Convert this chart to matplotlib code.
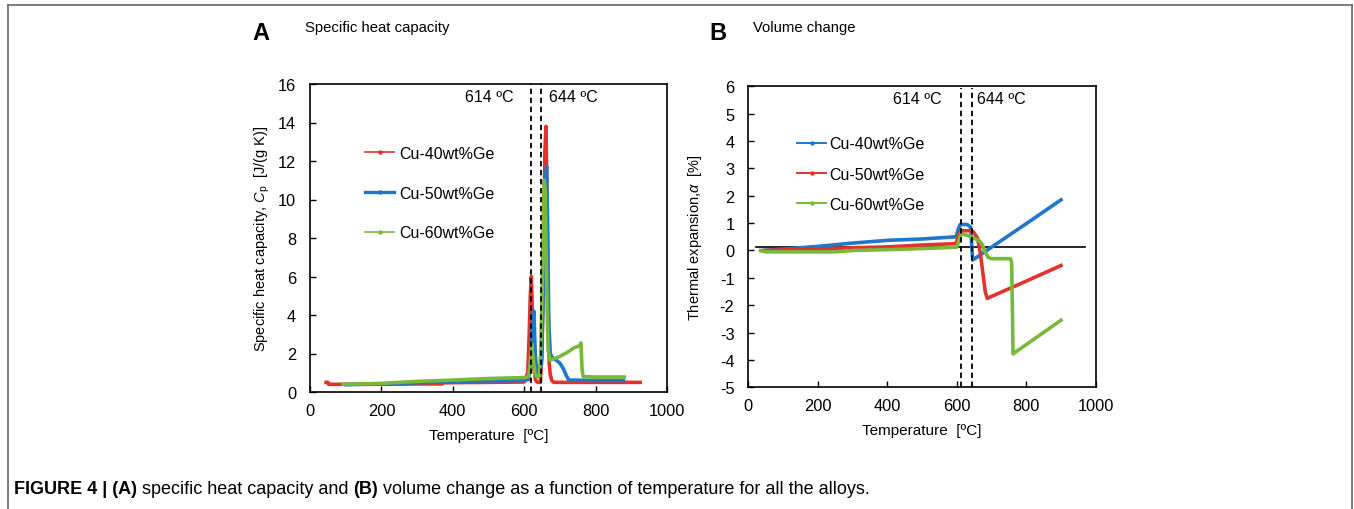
import matplotlib
matplotlib.use("Agg")
import matplotlib.pyplot as plt
from matplotlib.lines import Line2D

plt.rcParams['font.family'] = ['Liberation Sans', 'DejaVu Sans']
plt.rcParams['mathtext.fontset'] = 'custom'
plt.rcParams['mathtext.rm'] = 'Liberation Sans'
plt.rcParams['mathtext.it'] = 'Liberation Sans:italic'
plt.rcParams['axes.unicode_minus'] = False

# -------- Données (A) : capacité thermique massique --------
t_cp40 = [45, 50, 52, 100, 200, 300, 370, 372, 500, 600, 610, 614, 617, 620, 623, 627, 632, 638,
          645, 650, 655, 658, 661, 664, 667, 670, 673, 677, 683, 700, 800, 925]
cp40 = [0.5, 0.5, 0.4, 0.4, 0.4, 0.42, 0.42, 0.48, 0.5, 0.52, 1.0, 3.0, 5.0, 6.0, 4.0, 1.2, 0.6, 0.5,
        0.5, 2.0, 8.0, 12.5, 13.8, 10.2, 4.5, 1.5, 0.9, 0.6, 0.5, 0.5, 0.5, 0.5]

t_cp50 = [100, 150, 200, 300, 400, 500, 600, 612, 618, 623, 627, 631, 636, 642, 648, 652, 656, 660,
          663, 666, 669, 673, 680, 690, 700, 710, 718, 725, 800, 878]
cp50 = [0.38, 0.4, 0.42, 0.48, 0.55, 0.58, 0.6, 0.65, 1.5, 3.5, 4.2, 2.0, 0.85, 0.8, 1.5, 4.0, 8.5, 11.2,
        11.7, 8.0, 3.5, 2.0, 1.75, 1.65, 1.5, 1.2, 0.85, 0.62, 0.6, 0.6]

t_cp60 = [93, 150, 200, 300, 400, 500, 600, 612, 617, 621, 625, 630, 636, 642, 646, 650, 653, 656,
          659, 663, 667, 672, 680, 700, 720, 740, 755, 759, 762, 765, 800, 880]
cp60 = [0.4, 0.42, 0.45, 0.55, 0.62, 0.7, 0.75, 0.8, 1.5, 2.5, 1.8, 0.9, 0.8, 0.8, 2.0, 5.0, 8.5, 11.0,
        10.5, 5.5, 2.2, 1.65, 1.7, 1.85, 2.05, 2.3, 2.4, 2.55, 1.2, 0.8, 0.78, 0.78]

# -------- Données (B) : dilatation thermique --------
t_a40 = [40, 100, 200, 300, 400, 500, 598, 605, 610, 630, 640, 643, 646, 700, 800, 900]
a40 = [0.0, 0.05, 0.15, 0.27, 0.37, 0.42, 0.5, 0.8, 0.95, 0.95, 0.85, 0.2, -0.35, 0.12, 0.98, 1.85]

t_a50 = [45, 100, 200, 300, 400, 500, 598, 605, 612, 640, 648, 660, 668, 675, 682, 688, 700, 800, 900]
a50 = [0.0, 0.02, 0.05, 0.1, 0.13, 0.2, 0.25, 0.55, 0.72, 0.72, 0.68, 0.45, -0.1, -0.8, -1.5, -1.75,
       -1.68, -1.12, -0.55]

t_a60 = [35, 50, 150, 250, 300, 400, 500, 600, 607, 612, 630, 650, 665, 672, 680, 690, 700, 755, 758,
         760, 762, 765, 800, 900]
a60 = [0.0, -0.05, -0.05, -0.05, 0.0, 0.03, 0.07, 0.12, 0.4, 0.62, 0.55, 0.45, 0.35, 0.25, 0.0, -0.25,
       -0.3, -0.3, -0.45, -2.0, -3.78, -3.75, -3.44, -2.55]

labels = ["Cu-40wt%Ge", "Cu-50wt%Ge", "Cu-60wt%Ge"]
vlines_a = [618, 647]
vlines_b = [613, 645]
vline_labels = ["614 ºC", "644 ºC"]
zero_line = [22, 969]

red = "#e2322b"
blue = "#1f77c9"
green = "#79b93a"

fig = plt.figure(figsize=(13.54, 5.10), dpi=100)
W, H = 1354, 510


def reglage_axes(ax):
    ax.tick_params(direction='in', length=4, width=1, labelsize=11.8, top=False, right=False)
    ax.tick_params(axis='x', pad=8)
    ax.tick_params(axis='y', pad=10)
    for s in ax.spines.values():
        s.set_linewidth(1.2)


# -------- Panneau A --------
axA = fig.add_axes([310 / W, 1 - 393 / H, 357 / W, 308 / H])
axA.plot(t_cp40, cp40, color=red, lw=2.6, solid_joinstyle='round')
axA.plot(t_cp50, cp50, color=blue, lw=2.6, solid_joinstyle='round')
axA.plot(t_cp60, cp60, color=green, lw=2.6, solid_joinstyle='round')
for v in vlines_a:
    axA.axvline(v, color='black', ls=(0, (3, 2)), lw=1.3)
axA.set_xlim(0, 1000)
axA.set_ylim(0, 16)
axA.set_yticks(range(0, 17, 2))
axA.set_xticks(range(0, 1001, 200))
reglage_axes(axA)
axA.text(vlines_a[0] - 49, 15.35, vline_labels[0], ha='right', va='center', fontsize=11.5)
axA.text(vlines_a[1] + 22, 15.35, vline_labels[1], ha='left', va='center', fontsize=11.5)
axA.set_xlabel("Temperature  [ºC]", fontsize=11, labelpad=7)
axA.set_ylabel("Specific heat capacity, $C_\\mathrm{p}$  [J/(g K)]", fontsize=10.5, labelpad=4)

hA = [Line2D([], [], color=c, lw=w, marker='o', ms=2.2) for c, w in [(red, 1.2), (blue, 2.4), (green, 1.2)]]
axA.legend(hA, labels, loc='upper left', bbox_to_anchor=(0.115, 0.846), frameon=False, fontsize=11.5,
           handlelength=1.8, handletextpad=0.3, labelspacing=1.55)

fig.text(252 / W, 1 - 33 / H, "A", fontsize=17, fontweight='bold', va='center')
fig.text(305 / W, 1 - 28 / H, "Specific heat capacity", fontsize=10.7, va='center')

# -------- Panneau B --------
axB = fig.add_axes([748.3 / W, 1 - 388.3 / H, 347.4 / W, 301 / H])
axB.plot(zero_line, [0.12, 0.12], color='black', lw=1.2)
axB.plot(t_a40, a40, color=blue, lw=2.6, solid_joinstyle='round')
axB.plot(t_a50, a50, color=red, lw=2.6, solid_joinstyle='round')
axB.plot(t_a60, a60, color=green, lw=2.6, solid_joinstyle='round')
for v in vlines_b:
    axB.axvline(v, ymax=0.995, color='black', ls=(0, (3, 2)), lw=1.3)
axB.set_xlim(0, 1000)
axB.set_ylim(-5, 6)
axB.set_yticks(range(-5, 7))
axB.set_xticks(range(0, 1001, 200))
reglage_axes(axB)
axB.text(vlines_b[0] - 56, 5.55, vline_labels[0], ha='right', va='center', fontsize=11.5)
axB.text(vlines_b[1] + 13, 5.55, vline_labels[1], ha='left', va='center', fontsize=11.5)
axB.set_xlabel("Temperature  [ºC]", fontsize=11, labelpad=7)
axB.set_ylabel("Thermal expansion,$\\alpha$  [%]", fontsize=10.5, labelpad=11)

hB = [Line2D([], [], color=c, lw=1.4, marker='o', ms=2.2) for c in (blue, red, green)]
axB.legend(hB, labels, loc='upper left', bbox_to_anchor=(0.1, 0.881), frameon=False, fontsize=11.5,
           handlelength=1.8, handletextpad=0.2, labelspacing=0.95)

fig.text(709 / W, 1 - 33 / H, "B", fontsize=17, fontweight='bold', va='center')
fig.text(753 / W, 1 - 28 / H, "Volume change", fontsize=10.7, va='center')

# -------- Cadre de la figure --------
cadre = dict(color='#666666', lw=1.2, transform=fig.transFigure)
fig.add_artist(Line2D([8 / W, 8 / W], [0, 1 - 5.5 / H], **cadre))
fig.add_artist(Line2D([8 / W, 1352 / W], [1 - 5.5 / H, 1 - 5.5 / H], **cadre))
fig.add_artist(Line2D([1352 / W, 1352 / W], [0, 1 - 5.5 / H], **cadre))

# -------- Légende de la figure (texte mixte gras / normal) --------
fig.canvas.draw()
r = fig.canvas.get_renderer()
morceaux = [("FIGURE 4 | (A)", 'bold'), (" specific heat capacity and ", 'normal'), ("(B)", 'bold'),
            (" volume change as a function of temperature for all the alloys.", 'normal')]
x = 14 / W
for txt, poids in morceaux:
    t = fig.text(x, 1 - 490 / H, txt, fontsize=13, fontweight=poids, va='center')
    bb = t.get_window_extent(renderer=r)
    x = bb.x1 / fig.bbox.width

fig.savefig("out.png", dpi=100)
